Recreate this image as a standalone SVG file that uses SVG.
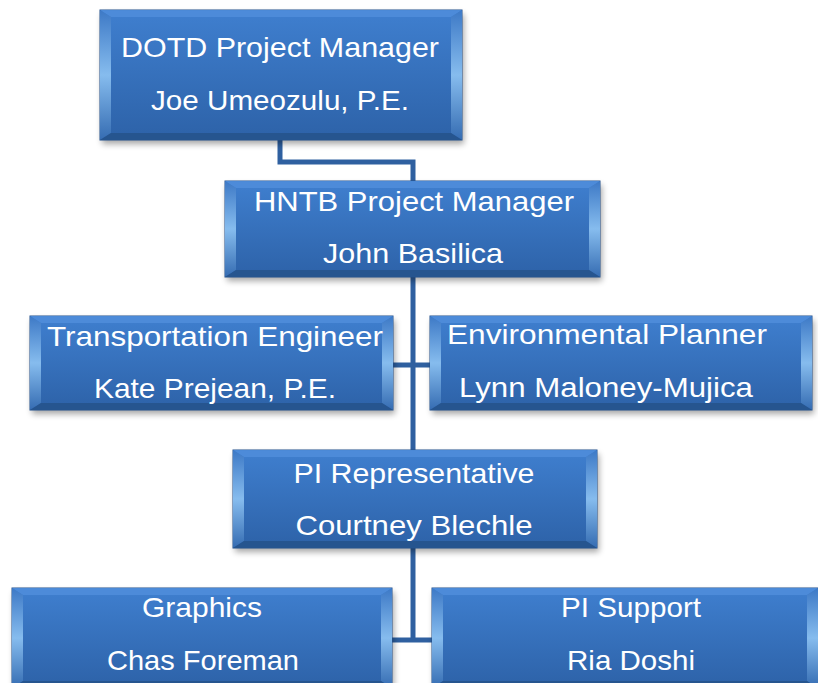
<svg xmlns="http://www.w3.org/2000/svg" width="818" height="683" viewBox="0 0 818 683">
<defs>
<linearGradient id="face" x1="0" y1="0" x2="0" y2="1"><stop offset="0" stop-color="#3f7fcf"/><stop offset="1" stop-color="#2d62a8"/></linearGradient>
<linearGradient id="side" x1="0" y1="0" x2="0" y2="1"><stop offset="0" stop-color="#3d79c6"/><stop offset="0.5" stop-color="#86bcee"/><stop offset="1" stop-color="#356cb2"/></linearGradient>
<filter id="sh" x="-10%" y="-10%" width="120%" height="130%"><feGaussianBlur stdDeviation="3"/></filter>
<style>
.shadow{fill:#000;opacity:.35;filter:url(#sh)}
.face{fill:url(#face);stroke:#24528e;stroke-width:1}
.bt{fill:#4f8dda;opacity:.9}
.bs{fill:url(#side)}
.bb{fill:#26558f}
.t{font-family:"Liberation Sans",Arial,sans-serif;font-size:28px;fill:#fff;text-anchor:middle}
.c{fill:none;stroke:#2f60a0;stroke-width:5}
</style>
</defs>
<rect width="818" height="683" fill="#fff"/>
<g id="connectors">
<path class="c" d="M280 140 V162 H413 V181"/>
<path class="c" d="M413 277 V450"/>
<path class="c" d="M393 365 H430"/>
<path class="c" d="M413 548 V640"/>
<path class="c" d="M392 640 H432"/>
</g>
<g id="dotd" transform="translate(100,10)">
<rect class="shadow" x="2" y="4" width="362" height="130"/>
<rect class="face" width="362" height="130"/>
<polygon class="bt" points="0,0 362,0 351,7 11,7"/>
<polygon class="bs" points="0,0 11,7 11,123 0,130"/>
<polygon class="bs" points="362,0 362,130 351,123 351,7"/>
<polygon class="bb" points="0,130 11,123 351,123 362,130"/>
<text class="t" x="180" y="47" textLength="318" lengthAdjust="spacingAndGlyphs">DOTD Project Manager</text>
<text class="t" x="180" y="100" textLength="258" lengthAdjust="spacingAndGlyphs">Joe Umeozulu, P.E.</text>
</g>
<g id="hntb" transform="translate(225,181)">
<rect class="shadow" x="2" y="4" width="375" height="96"/>
<rect class="face" width="375" height="96"/>
<polygon class="bt" points="0,0 375,0 364,7 11,7"/>
<polygon class="bs" points="0,0 11,7 11,89 0,96"/>
<polygon class="bs" points="375,0 375,96 364,89 364,7"/>
<polygon class="bb" points="0,96 11,89 364,89 375,96"/>
<text class="t" x="189" y="30" textLength="320" lengthAdjust="spacingAndGlyphs">HNTB Project Manager</text>
<text class="t" x="188" y="82" textLength="180" lengthAdjust="spacingAndGlyphs">John Basilica</text>
</g>
<g id="transportation" transform="translate(30,316)">
<rect class="shadow" x="2" y="4" width="363" height="94"/>
<rect class="face" width="363" height="94"/>
<polygon class="bt" points="0,0 363,0 352,7 11,7"/>
<polygon class="bs" points="0,0 11,7 11,87 0,94"/>
<polygon class="bs" points="363,0 363,94 352,87 352,7"/>
<polygon class="bb" points="0,94 11,87 352,87 363,94"/>
<text class="t" x="185" y="30" textLength="336" lengthAdjust="spacingAndGlyphs">Transportation Engineer</text>
<text class="t" x="185" y="82" textLength="242" lengthAdjust="spacingAndGlyphs">Kate Prejean, P.E.</text>
</g>
<g id="environmental" transform="translate(430,316)">
<rect class="shadow" x="2" y="4" width="382" height="94"/>
<rect class="face" width="382" height="94"/>
<polygon class="bt" points="0,0 382,0 371,7 11,7"/>
<polygon class="bs" points="0,0 11,7 11,87 0,94"/>
<polygon class="bs" points="382,0 382,94 371,87 371,7"/>
<polygon class="bb" points="0,94 11,87 371,87 382,94"/>
<text class="t" x="177" y="28" textLength="320" lengthAdjust="spacingAndGlyphs">Environmental Planner</text>
<text class="t" x="176" y="81" textLength="294" lengthAdjust="spacingAndGlyphs">Lynn Maloney-Mujica</text>
</g>
<g id="pi-representative" transform="translate(233,450)">
<rect class="shadow" x="2" y="4" width="364" height="98"/>
<rect class="face" width="364" height="98"/>
<polygon class="bt" points="0,0 364,0 353,7 11,7"/>
<polygon class="bs" points="0,0 11,7 11,91 0,98"/>
<polygon class="bs" points="364,0 364,98 353,91 353,7"/>
<polygon class="bb" points="0,98 11,91 353,91 364,98"/>
<text class="t" x="181" y="33" textLength="241" lengthAdjust="spacingAndGlyphs">PI Representative</text>
<text class="t" x="181" y="85" textLength="237" lengthAdjust="spacingAndGlyphs">Courtney Blechle</text>
</g>
<g id="graphics" transform="translate(12,588)">
<rect class="shadow" x="2" y="4" width="380" height="100"/>
<rect class="face" width="380" height="100"/>
<polygon class="bt" points="0,0 380,0 369,7 11,7"/>
<polygon class="bs" points="0,0 11,7 11,93 0,100"/>
<polygon class="bs" points="380,0 380,100 369,93 369,7"/>
<polygon class="bb" points="0,100 11,93 369,93 380,100"/>
<text class="t" x="190" y="29" textLength="120" lengthAdjust="spacingAndGlyphs">Graphics</text>
<text class="t" x="191" y="82" textLength="192" lengthAdjust="spacingAndGlyphs">Chas Foreman</text>
</g>
<g id="pi-support" transform="translate(432,588)">
<rect class="shadow" x="2" y="4" width="386" height="100"/>
<rect class="face" width="386" height="100"/>
<polygon class="bt" points="0,0 386,0 375,7 11,7"/>
<polygon class="bs" points="0,0 11,7 11,93 0,100"/>
<polygon class="bs" points="386,0 386,100 375,93 375,7"/>
<polygon class="bb" points="0,100 11,93 375,93 386,100"/>
<text class="t" x="199" y="29" textLength="140" lengthAdjust="spacingAndGlyphs">PI Support</text>
<text class="t" x="199" y="82" textLength="128" lengthAdjust="spacingAndGlyphs">Ria Doshi</text>
</g>
</svg>
